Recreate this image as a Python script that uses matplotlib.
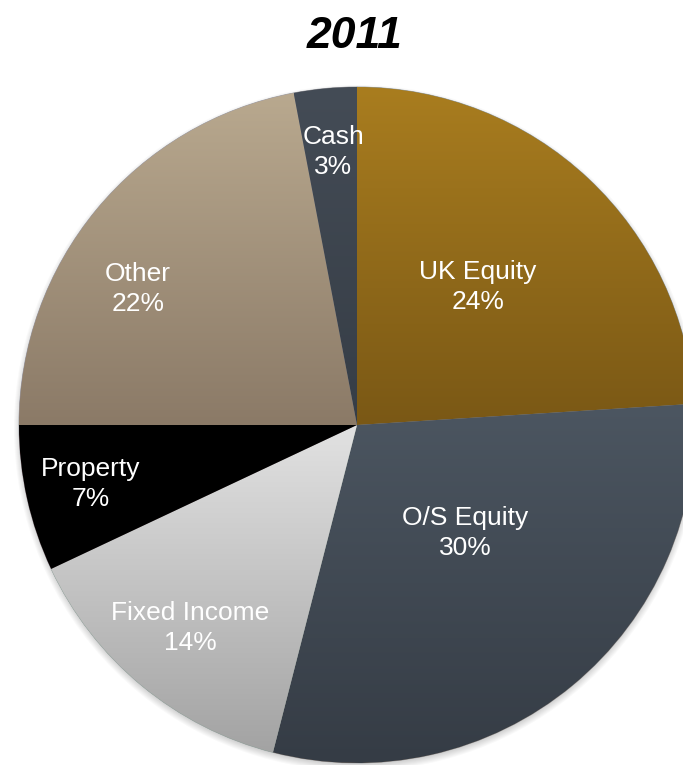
import numpy as np
import matplotlib.pyplot as plt
from matplotlib.colors import LinearSegmentedColormap
from matplotlib.patches import Circle

# Asset allocation for 2011, clockwise from 12 o'clock
labels = ['UK Equity', 'O/S Equity', 'Fixed Income', 'Property', 'Other', 'Cash']
shares = [24, 30, 14, 7, 22, 3]

# Vertical gradient per slice (top colour, bottom colour)
tops = ['#a97d1f', '#4c5661', '#e2e2e2', '#000000', '#b9a98f', '#444c56']
bottoms = ['#7a5815', '#353c45', '#a3a3a3', '#000000', '#8b7a67', '#363d46']
# label offsets from the pie centre, in units of the radius
label_pos = [(0.358, 0.408), (0.320, -0.320), (-0.494, -0.601),
             (-0.787, -0.175), (-0.648, 0.402), (-0.071, 0.808)]

fig = plt.figure(figsize=(6.83, 7.65), dpi=100)
ax = fig.add_axes([0, 0, 1, 1])

cx, cy, R = 357, 340, 338

# soft drop shadow under the pie
for k in range(8):
    ax.add_patch(Circle((cx, cy - 3), R - 2 + k, facecolor='k', edgecolor='none',
                        alpha=0.025, zorder=0))

wedges, _ = ax.pie(shares, startangle=90, counterclock=False, center=(cx, cy),
                   radius=R, frame=True,
                   wedgeprops=dict(edgecolor='#9aa0a6', linewidth=0.6))
for w in wedges:
    w.set_zorder(1)

grad = np.linspace(0, 1, 256).reshape(-1, 1)
for w, c0, c1 in zip(wedges, tops, bottoms):
    ext = w.get_path().get_extents()
    cmap = LinearSegmentedColormap.from_list('g', [c0, c1])
    im = ax.imshow(grad, cmap=cmap, aspect='auto', origin='upper',
                   extent=(ext.x0, ext.x1, ext.y0, ext.y1), zorder=2,
                   interpolation='bilinear')
    im.set_clip_path(w)

for lab, s, (fx, fy) in zip(labels, shares, label_pos):
    ax.text(cx + R * fx, cy + R * fy, f'{lab}\n{s}%',
            ha='center', va='center', color='white', fontsize=19,
            family='Liberation Sans', linespacing=1.32, zorder=5)

ax.text(355, 765 - 36, '2011', ha='center', va='center', fontsize=32,
        fontweight='bold', fontstyle='italic', family='Liberation Sans')

ax.set_xlim(0, 683)
ax.set_ylim(0, 765)
ax.axis('off')

fig.savefig('out.png', dpi=100)
